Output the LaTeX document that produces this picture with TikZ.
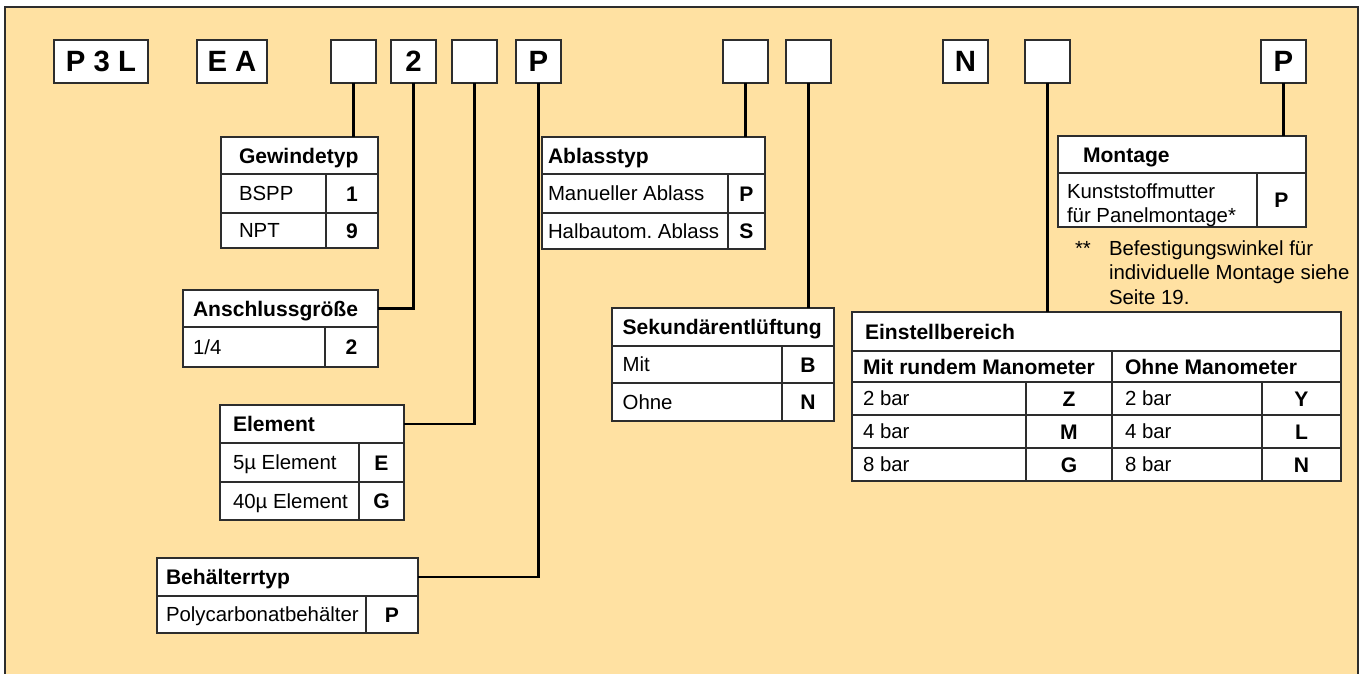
\documentclass[tikz,border=0pt]{standalone}
\usepackage{fontspec}
\setmainfont{Liberation Sans}
\frenchspacing
\definecolor{bgc}{RGB}{255,225,162}
\definecolor{frameg}{RGB}{45,45,45}
\newcommand\regf{\fontsize{15.3}{18}\selectfont}
\newcommand\boldf{\fontsize{15.8}{18}\selectfont\bfseries}
\newcommand\bigf{\fontsize{22}{26}\selectfont\bfseries}
\newcommand\cellbox[5]{%
  \pgfmathsetmacro\cbw{#4*0.75}%
  \pgfmathsetmacro\cbh{#5*0.75}%
  \node[cell, minimum width=\cbw pt, minimum height=\cbh pt] (#1) at (#2,#3) {};}
\tikzset{
  cell/.style={draw=frameg, fill=white, line width=0.95pt, inner sep=0pt, outer sep=0pt, anchor=north west},
  topbox/.style={draw=frameg, fill=white, line width=1pt, inner sep=0pt, outer sep=0pt, anchor=north west,
    minimum height=32.25pt, font=\bigf, text height=15.75pt, text depth=0pt},
  smallbox/.style={topbox, minimum width=33.75pt},
  txt/.style={inner sep=0pt, outer sep=0pt, text height=10.95pt, text depth=0pt, font=\regf, anchor=west},
  hd/.style={txt, font=\boldf, text height=11.3pt},
  code/.style={hd, anchor=center},
  conn/.style={line width=2pt, black},
  plain/.style={inner sep=0pt, outer sep=0pt, font=\regf, anchor=base west}
}
\begin{document}
\frenchspacing
\begin{tikzpicture}[x=0.75pt, y=-0.75pt]
\useasboundingbox (0,0) rectangle (1361,674);
\fill[bgc] (5,7) rectangle (1358,674);
\draw[frameg, line width=1.1pt] (5,674) -- (5,7) -- (1358,7) -- (1358,674);

% top code boxes
\node[topbox, minimum width=70.5pt] (p3l) at (54,40) {P 3 L};
\node[topbox, minimum width=52.5pt] (ea) at (197,40) {E A};
\node[smallbox] (b3) at (331,40) {};
\node[smallbox] (b4) at (391,40) {2};
\node[smallbox] (b5) at (452,40) {};
\node[smallbox] (b6) at (516,40) {P};
\node[smallbox] (b7) at (723,40) {};
\node[smallbox] (b8) at (786,40) {};
\node[smallbox] (b9) at (943,40) {N};
\node[smallbox] (b10) at (1025,40) {};
\node[smallbox] (b11) at (1261,40) {P};

% Gewindetyp
\cellbox{gewH}{221}{137}{157}{37}
\cellbox{gewA}{221}{174}{105}{39}
\cellbox{gewAc}{326}{174}{52}{39}
\cellbox{gewB}{221}{213}{105}{35}
\cellbox{gewBc}{326}{213}{52}{35}
\node[hd] (gewHt) at ([xshift=13.5pt]gewH.west) {Gewindetyp};
\node[txt] (gewAt) at ([xshift=13.5pt]gewA.west) {BSPP};
\node[code] (gewAct) at (gewAc.center) {1};
\node[txt] (gewBt) at ([xshift=13.5pt]gewB.west) {NPT};
\node[code] (gewBct) at (gewBc.center) {9};

% Anschlussgroesse
\cellbox{ansH}{183}{290}{195}{37}
\cellbox{ansA}{183}{327}{142}{40}
\cellbox{ansAc}{325}{327}{53}{40}
\node[hd] (ansHt) at ([xshift=7.5pt]ansH.west) {Anschlussgröße};
\node[txt] (ansAt) at ([xshift=7.5pt]ansA.west) {1/4};
\node[code] (ansAct) at (ansAc.center) {2};

% Element
\cellbox{elH}{220}{405}{184}{38}
\cellbox{elA}{220}{443}{139}{39}
\cellbox{elAc}{359}{443}{45}{39}
\cellbox{elB}{220}{482}{139}{38}
\cellbox{elBc}{359}{482}{45}{38}
\node[hd] (elHt) at ([xshift=9.75pt]elH.west) {Element};
\node[txt] (elAt) at ([xshift=9.75pt]elA.west) {5µ Element};
\node[code] (elAct) at (elAc.center) {E};
\node[txt] (elBt) at ([xshift=9.75pt]elB.west) {40µ Element};
\node[code] (elBct) at (elBc.center) {G};

% Behaelterrtyp
\cellbox{behH}{157}{558}{261}{38}
\cellbox{behA}{157}{596}{209}{37}
\cellbox{behAc}{366}{596}{52}{37}
\node[hd] (behHt) at ([xshift=6.75pt]behH.west) {Behälterrtyp};
\node[txt] (behAt) at ([xshift=6.75pt]behA.west) {Polycarbonatbehälter};
\node[code] (behAct) at (behAc.center) {P};

% Ablasstyp
\cellbox{ablH}{542}{137}{223}{37}
\cellbox{ablA}{542}{174}{186}{39}
\cellbox{ablAc}{728}{174}{37}{39}
\cellbox{ablB}{542}{213}{186}{36}
\cellbox{ablBc}{728}{213}{37}{36}
\node[hd] (ablHt) at ([xshift=4.5pt]ablH.west) {Ablasstyp};
\node[txt] (ablAt) at ([xshift=4.5pt]ablA.west) {Manueller Ablass};
\node[code] (ablAct) at (ablAc.center) {P};
\node[txt] (ablBt) at ([xshift=4.5pt]ablB.west) {Halbautom.\ Ablass};
\node[code] (ablBct) at (ablBc.center) {S};

% Sekundaerentlueftung
\cellbox{sekH}{612}{308}{222}{38}
\cellbox{sekA}{612}{346}{170}{37}
\cellbox{sekAc}{782}{346}{52}{37}
\cellbox{sekB}{612}{383}{170}{38}
\cellbox{sekBc}{782}{383}{52}{38}
\node[hd] (sekHt) at ([xshift=8pt]sekH.west) {Sekundärentlüftung};
\node[txt] (sekAt) at ([xshift=8pt]sekA.west) {Mit};
\node[code] (sekAct) at (sekAc.center) {B};
\node[txt] (sekBt) at ([xshift=8pt]sekB.west) {Ohne};
\node[code] (sekBct) at (sekBc.center) {N};

% Montage
\cellbox{monH}{1058}{136}{248}{37}
\cellbox{monA}{1058}{173}{199}{54}
\cellbox{monAc}{1257}{173}{49}{54}
\node[hd] (monHt) at ([xshift=18.75pt]monH.west) {Montage};
\node[plain] (monAt1) at (1067,198) {Kunststoffmutter};
\node[plain] (monAt2) at (1067,222) {für Panelmontage*};
\node[code] (monAct) at (monAc.center) {P};

% footnote
\node[plain] (fnstar) at (1075,255) {**};
\node[plain] (fn1) at (1109,255) {Befestigungswinkel für};
\node[plain] (fn2) at (1109,279.5) {individuelle Montage siehe};
\node[plain] (fn3) at (1109,304) {Seite 19.};

% Einstellbereich
\cellbox{einH}{852}{312}{489}{39}
\cellbox{einL}{852}{351}{260}{31}
\cellbox{einR}{1112}{351}{229}{31}
\node[hd] (einHt) at ([xshift=9.75pt]einH.west) {Einstellbereich};
\node[hd] (einLt) at ([xshift=8.25pt]einL.west) {Mit rundem Manometer};
\node[hd] (einRt) at ([xshift=9.75pt]einR.west) {Ohne Manometer};
\foreach \r/\yy/\hh/\bb/\cl/\cr in {1/382/33/2/Z/Y, 2/415/33/4/M/L, 3/448/33/8/G/N}{
  \cellbox{e\r a}{852}{\yy}{174}{\hh}
  \cellbox{e\r b}{1026}{\yy}{86}{\hh}
  \cellbox{e\r c}{1112}{\yy}{150}{\hh}
  \cellbox{e\r d}{1262}{\yy}{79}{\hh}
  \node[txt] (e\r at) at ([xshift=8.25pt]e\r a.west) {\bb{} bar};
  \node[code] (e\r bt) at (e\r b.center) {\cl};
  \node[txt] (e\r ct) at ([xshift=9.75pt]e\r c.west) {\bb{} bar};
  \node[code] (e\r dt) at (e\r d.center) {\cr};
}

% connectors
\draw[conn] (b3.south) -- (b3.south |- gewH.north);
\draw[conn] (b4.south) |- (ansH.east);
\draw[conn] (b5.south) |- (elH.east);
\draw[conn] (b6.south) |- (behH.east);
\draw[conn] (b7.south) -- (b7.south |- ablH.north);
\draw[conn] (b8.south) -- (b8.south |- sekH.north);
\draw[conn] (b10.south) -- (b10.south |- einH.north);
\draw[conn] (b11.south) -- (b11.south |- monH.north);
\end{tikzpicture}
\end{document}
